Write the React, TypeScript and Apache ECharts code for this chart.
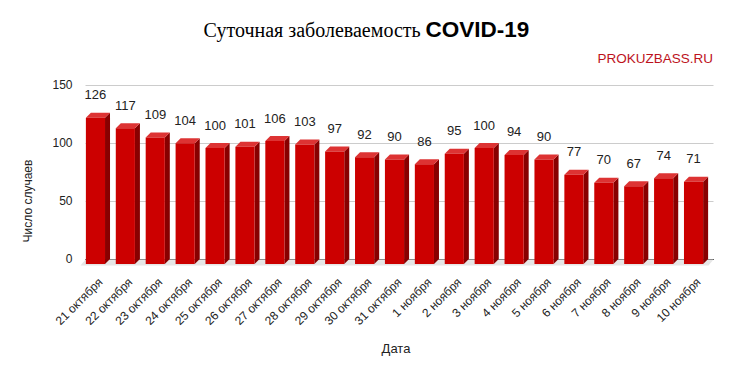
import React, { useEffect, useRef } from "react";
import * as echarts from "echarts";

const categories = [
  "21 октября", "22 октября", "23 октября", "24 октября", "25 октября", "26 октября",
  "27 октября", "28 октября", "29 октября", "30 октября", "31 октября",
  "1 ноября", "2 ноября", "3 ноября", "4 ноября", "5 ноября", "6 ноября",
  "7 ноября", "8 ноября", "9 ноября", "10 ноября",
];
const cases = [126, 117, 109, 104, 100, 101, 106, 103, 97, 92, 90, 86, 95, 100, 94, 90, 77, 70, 67, 74, 71];
const yTicks = [0, 50, 100, 150];

const DEPTH = 5;
const TEXT = "#222";
const SANS = "'Liberation Sans', Arial, sans-serif";
const SERIF = "'Liberation Serif', 'Times New Roman', serif";

export default function App() {
  const ref = useRef<HTMLDivElement>(null);
  useEffect(() => {
    if (!ref.current) return;
    const chart = echarts.init(ref.current, null, { renderer: "svg" });
    const d = DEPTH;
    const renderBar = (params: any, api: any) => {
      const idx = api.value(0);
      const val = api.value(1);
      const top = api.coord([idx, val]);
      const base = api.coord([idx, 0]);
      const bw = api.size([1, 0])[0] * 0.64;
      const xl = top[0] - bw / 2 - d;
      const xr = top[0] + bw / 2 - d;
      const yt = top[1] + d;
      const yb = base[1] + d;
      return {
        type: "group",
        children: [
          {
            type: "polygon",
            shape: { points: [[xr, yt], [xr + d, yt - d], [xr + d, yb - d], [xr, yb]] },
            style: { fill: "#880000" },
          },
          {
            type: "polygon",
            shape: { points: [[xl, yt], [xl + d, yt - d], [xr + d, yt - d], [xr, yt]] },
            style: { fill: "#dd3333" },
          },
          {
            type: "rect",
            shape: { x: xl, y: yt, width: bw, height: yb - yt },
            style: { fill: "#cc0000" },
          },
          {
            type: "text",
            x: (xl + xr) / 2,
            y: yt - 23,
            style: {
              text: String(val),
              align: "center",
              verticalAlign: "middle",
              fill: TEXT,
              fontSize: 13,
              fontFamily: SANS,
            },
          },
        ],
      };
    };
    const renderFloor = (params: any) => {
      const cs = params.coordSys;
      const y0 = cs.y + cs.height + 0.5;
      return {
        type: "polygon",
        shape: {
          points: [
            [cs.x, y0],
            [cs.x + cs.width, y0],
            [cs.x + cs.width - d, y0 + d + 1],
            [cs.x - d, y0 + d + 1],
          ],
        },
        style: { fill: "#e6e6e6" },
      };
    };
    chart.setOption({
      animation: false,
      backgroundColor: "#fff",
      graphic: [
        {
          type: "text",
          left: "center",
          top: 18,
          style: {
            text: "{a|Суточная заболеваемость }{b|COVID-19}",
            rich: {
              a: { fontFamily: SERIF, fontSize: 20, fontWeight: "normal", fill: "#000" },
              b: { fontFamily: SANS, fontSize: 22.5, fontWeight: "bold", fill: "#000" },
            },
          },
        },
        {
          type: "text",
          right: 20,
          top: 51,
          style: { text: "PROKUZBASS.RU", fill: "#bd121c", fontSize: 13.5, fontFamily: SANS },
        },
        {
          type: "text",
          x: 28,
          y: 201,
          rotation: Math.PI / 2,
          style: {
            text: "Число случаев",
            align: "center",
            verticalAlign: "middle",
            fill: TEXT,
            fontSize: 12,
            fontFamily: SANS,
          },
        },
        {
          type: "text",
          x: 396,
          y: 348,
          style: {
            text: "Дата",
            align: "center",
            verticalAlign: "middle",
            fill: TEXT,
            fontSize: 13,
            fontFamily: SANS,
          },
        },
      ],
      grid: { left: 85.5, right: 19.5, top: 85, bottom: 115, containLabel: false },
      xAxis: {
        type: "category",
        data: categories,
        axisTick: { show: false },
        axisLine: { show: true, lineStyle: { color: "#333", width: 1 } },
        axisLabel: {
          rotate: 45,
          interval: 0,
          margin: 21,
          color: TEXT,
          fontSize: 12,
          fontFamily: SANS,
        },
      },
      yAxis: {
        type: "value",
        min: yTicks[0],
        max: yTicks[yTicks.length - 1],
        interval: 50,
        axisLine: { show: false },
        axisTick: { show: false },
        splitLine: { lineStyle: { color: "#cccccc" } },
        axisLabel: { margin: 13, color: TEXT, fontSize: 12, fontFamily: SANS },
      },
      series: [
        {
          type: "custom",
          z: 1,
          renderItem: renderFloor,
          data: [[0, 0]],
          encode: { x: 0, y: 1 },
          silent: true,
        },
        {
          type: "custom",
          z: 3,
          renderItem: renderBar,
          data: cases.map((v, i) => [i, v]),
          encode: { x: 0, y: 1 },
        },
      ],
    });
    return () => chart.dispose();
  }, []);
  return (
    <div
      ref={ref}
      style={{ position: "fixed", left: 0, top: 0, width: 733, height: 374, background: "#fff" }}
    />
  );
}
